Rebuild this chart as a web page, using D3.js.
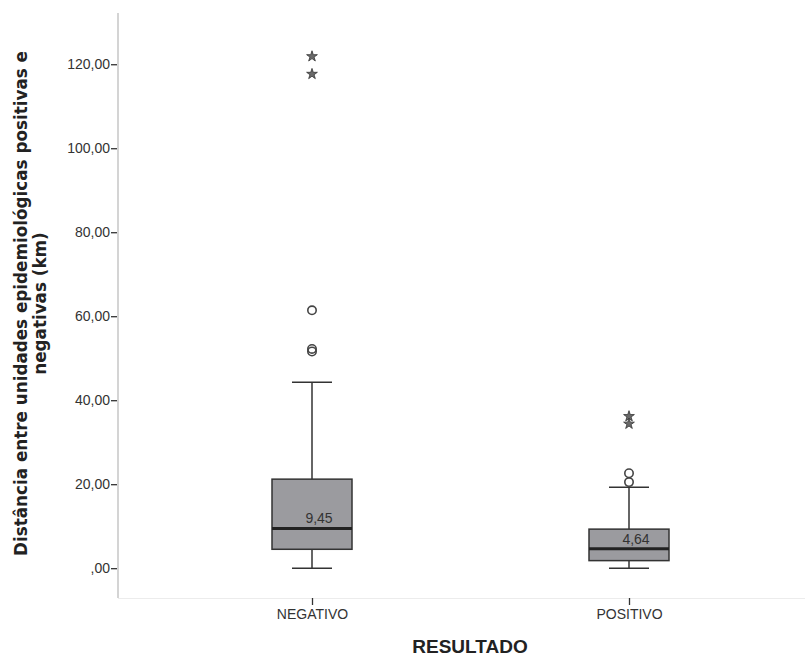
<!DOCTYPE html>
<html>
<head>
<meta charset="utf-8">
<script src="https://cdn.jsdelivr.net/npm/d3@7"></script>
<style>
  html, body { margin: 0; padding: 0; background: #fff; }
  svg { display: block; font-family: Arial, "Liberation Sans", sans-serif; }
</style>
</head>
<body>
<svg id="chart" width="806" height="657"></svg>
<script>
// Groups and their five-number summaries (km)
const categories = ["NEGATIVO", "POSITIVO"];
const whiskerLow = [0.0, 0.0];
const q1 = [4.5, 1.8];
const median = [9.45, 4.64];
const q3 = [21.2, 9.3];
const whiskerHigh = [44.3, 19.3];
// Outliers (circles) and extreme values (stars)
const outliers = [[61.4, 52.2, 51.6], [22.6, 20.5]];
const extremes = [[122.1, 117.9], [36.4, 34.6]];
const yTicks = [0, 20, 40, 60, 80, 100, 120];

const svg = d3.select("#chart");
const plotLeft = 118, plotRight = 805, plotTop = 13, plotBottom = 598;
const smallFont = 14;

const y = d3.scaleLinear().domain([-7.1, 132.2]).range([plotBottom, plotTop]);
const x = d3.scalePoint().domain(categories).range([153.5, 787.5]).padding(0.5);
const boxW = 80, capW = 40;
const fmt = v => d3.format(".2f")(v).replace(".", ",").replace(/^0,/, ",");

// axis frame
svg.append("line").attr("x1", plotLeft).attr("x2", plotLeft).attr("y1", plotTop).attr("y2", plotBottom)
  .attr("stroke", "#d4d4d4").attr("stroke-width", 2);
svg.append("line").attr("x1", plotLeft).attr("x2", plotRight).attr("y1", plotBottom + 0.5).attr("y2", plotBottom + 0.5)
  .attr("stroke", "#ececec").attr("stroke-width", 1);

// y axis ticks and labels
const yAxis = d3.axisLeft(y).tickValues(yTicks).tickFormat(fmt).tickSize(6).tickPadding(1);
const gy = svg.append("g").attr("transform", `translate(${plotLeft - 1},0)`).call(yAxis);
gy.select(".domain").remove();
gy.selectAll(".tick line").attr("stroke", "#333").attr("stroke-width", 1.3);
gy.selectAll(".tick text").attr("fill", "#333").attr("font-size", smallFont)
  .attr("font-family", "Arial, 'Liberation Sans', sans-serif");

// x axis ticks and labels
const xAxis = d3.axisBottom(x).tickSize(7).tickPadding(4);
const gx = svg.append("g").attr("transform", `translate(0,${plotBottom})`).call(xAxis);
gx.select(".domain").remove();
gx.selectAll(".tick line").attr("stroke", "#333").attr("stroke-width", 1.3);
gx.selectAll(".tick text").attr("fill", "#333").attr("font-size", smallFont)
  .attr("font-family", "Arial, 'Liberation Sans', sans-serif");

// boxes
categories.forEach((c, i) => {
  const cx = x(c);
  const g = svg.append("g");
  // whisker stems
  g.append("line").attr("x1", cx).attr("x2", cx).attr("y1", y(q3[i])).attr("y2", y(whiskerHigh[i]))
    .attr("stroke", "#333").attr("stroke-width", 1.5);
  g.append("line").attr("x1", cx).attr("x2", cx).attr("y1", y(q1[i])).attr("y2", y(whiskerLow[i]))
    .attr("stroke", "#333").attr("stroke-width", 1.5);
  // caps
  [whiskerHigh[i], whiskerLow[i]].forEach(v => {
    g.append("line").attr("x1", cx - capW / 2).attr("x2", cx + capW / 2).attr("y1", y(v)).attr("y2", y(v))
      .attr("stroke", "#333").attr("stroke-width", 1.5);
  });
  // box
  g.append("rect").attr("x", cx - boxW / 2).attr("width", boxW)
    .attr("y", y(q3[i])).attr("height", y(q1[i]) - y(q3[i]))
    .attr("fill", "#9b9b9f").attr("stroke", "#333").attr("stroke-width", 1.5);
  // median
  g.append("line").attr("x1", cx - boxW / 2).attr("x2", cx + boxW / 2).attr("y1", y(median[i])).attr("y2", y(median[i]))
    .attr("stroke", "#222").attr("stroke-width", 3);
  g.append("text").attr("x", cx + 7).attr("y", y(median[i]) - 5).attr("text-anchor", "middle")
    .attr("font-size", smallFont).attr("fill", "#333").text(d3.format(".2f")(median[i]).replace(".", ","));
  // outlier circles
  outliers[i].forEach(v => {
    g.append("circle").attr("cx", cx).attr("cy", y(v)).attr("r", 4.2)
      .attr("fill", "none").attr("stroke", "#444").attr("stroke-width", 1.6);
  });
  // extreme stars
  extremes[i].forEach(v => {
    g.append("path").attr("d", d3.symbol(d3.symbolStar, 36)())
      .attr("transform", `translate(${cx},${y(v) + 1})`)
      .attr("fill", "#6a6a6a").attr("stroke", "#333").attr("stroke-width", 0.8);
  });
});

// axis titles
svg.append("text").attr("x", 470).attr("y", 653).attr("text-anchor", "middle")
  .attr("font-size", 19).attr("font-weight", "bold").attr("fill", "#222").text("RESULTADO");

const yt = svg.append("text").attr("transform", `translate(0,${(plotTop + plotBottom) / 2 - 2}) rotate(-90)`)
  .attr("text-anchor", "middle").attr("font-size", 16.8).attr("font-weight", "bold").attr("fill", "#222")
  .attr("font-family", "'DejaVu Sans', sans-serif");
yt.append("tspan").attr("x", 0).attr("y", 27).text("Distância entre unidades epidemiológicas positivas e");
yt.append("tspan").attr("x", 0).attr("y", 46).text("negativas (km)");
</script>
</body>
</html>
